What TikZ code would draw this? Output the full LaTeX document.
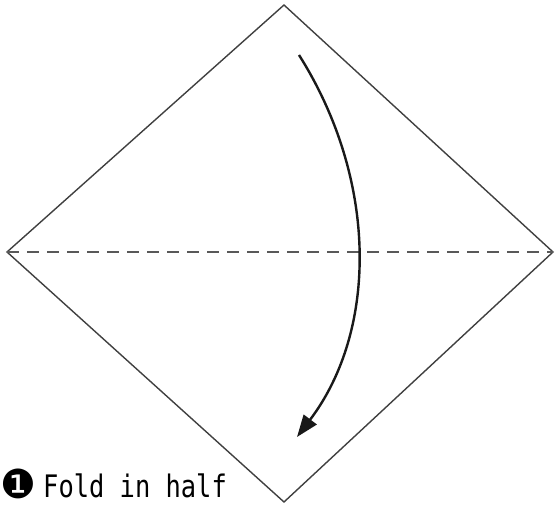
\documentclass[tikz,border=0pt]{standalone}
\usepackage{fontspec}
\usetikzlibrary{arrows.meta}
\newfontfamily\stepfont[FakeStretch=0.82]{DejaVu Sans Mono}
\newfontfamily\markfont{DejaVu Sans}
\tikzset{
  paper/.style={draw=black!75, line width=1.4pt, line join=miter},
  foldline/.style={draw=black!65, line width=1.2pt, dash pattern=on 12pt off 8pt},
  foldarrow/.style={draw=black!90, line width=2.4pt, -{Triangle[length=22pt,width=16pt]}},
  caption/.style={inner sep=0pt, anchor=base west}
}
\begin{document}
\begin{tikzpicture}[x=1pt,y=-1pt]

  \useasboundingbox (0,0) rectangle (555,508);

  % corners of the square sheet
  \coordinate (top) at (284,5);
  \coordinate (right) at (553,252);
  \coordinate (bottom) at (284,502);
  \coordinate (left) at (7,252);

  \draw[paper] (top) -- (right) -- (bottom) -- (left) -- cycle;
  \draw[foldline] (left) -- (right);

  % fold direction
  \coordinate (from) at (299,55);
  \coordinate (to) at (297,437);
  \draw[foldarrow] (from) .. controls (378,180) and (378,330) .. (to);

  \node[caption] (num) at (0,498) {\markfont\fontsize{40}{40}\selectfont ❶};
  \node[caption] (label) at (43,497) {\stepfont\fontsize{31}{31}\selectfont Fold in half};

\end{tikzpicture}
\end{document}
